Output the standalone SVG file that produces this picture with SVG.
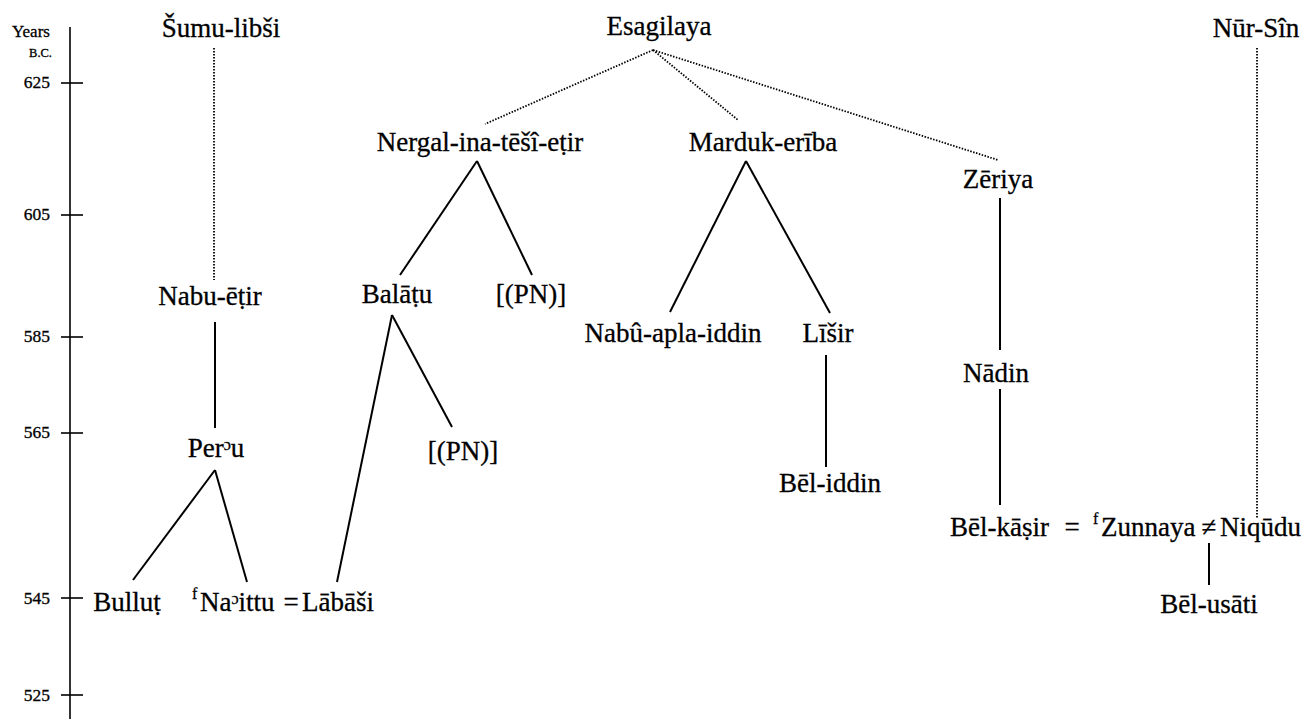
<svg xmlns="http://www.w3.org/2000/svg" width="1308" height="719" viewBox="0 0 1308 719" font-family="'Liberation Serif', 'Times New Roman', Times, 'DejaVu Serif', serif">
<style>
text{fill:#000;stroke:#000;stroke-width:0.3}
.n{font-size:27px;text-anchor:middle}
.s{font-size:27px;text-anchor:start}
.sup{font-size:16px;text-anchor:start}
.ax{font-size:17.5px;text-anchor:end}
.solid{stroke:#000;stroke-width:2;fill:none}
.dot{stroke:#000;stroke-width:1.8;stroke-dasharray:1.5 1.5;fill:none}
.axis{stroke:#000;stroke-width:1.6;fill:none}
</style>
<rect width="1308" height="719" fill="#fff"/>
<g id="axis">
<line class="axis" x1="70" y1="27" x2="70" y2="719"/>
<line class="axis" x1="61" y1="83" x2="83" y2="83"/>
<line class="axis" x1="61" y1="215" x2="83" y2="215"/>
<line class="axis" x1="61" y1="337" x2="83" y2="337"/>
<line class="axis" x1="61" y1="433" x2="83" y2="433"/>
<line class="axis" x1="61" y1="598" x2="83" y2="598"/>
<line class="axis" x1="61" y1="695" x2="83" y2="695"/>
<text x="12" y="37" font-size="17">Years</text>
<text x="52" y="57" font-size="12.5" text-anchor="end">B.C.</text>
<text class="ax" x="50" y="88">625</text>
<text class="ax" x="50" y="220">605</text>
<text class="ax" x="50" y="342">585</text>
<text class="ax" x="50" y="438">565</text>
<text class="ax" x="50" y="604">545</text>
<text class="ax" x="50" y="701">525</text>
</g>
<g id="connectors">
<line class="dot" x1="214" y1="48" x2="214" y2="280"/>
<line class="dot" x1="1257" y1="48" x2="1257" y2="518"/>
<line class="dot" x1="653" y1="50" x2="485" y2="124"/>
<line class="dot" x1="653" y1="50" x2="738" y2="120"/>
<line class="dot" x1="653" y1="50" x2="998" y2="160"/>
<line class="solid" x1="477" y1="161" x2="400" y2="275"/>
<line class="solid" x1="477" y1="161" x2="532" y2="275"/>
<line class="solid" x1="746" y1="161" x2="670" y2="312"/>
<line class="solid" x1="746" y1="161" x2="830" y2="313"/>
<line class="solid" x1="1000" y1="198" x2="1000" y2="350"/>
<line class="solid" x1="1000" y1="389" x2="1000" y2="505"/>
<line class="solid" x1="215" y1="322" x2="215" y2="428"/>
<line class="solid" x1="392" y1="315" x2="337" y2="582"/>
<line class="solid" x1="392" y1="315" x2="452" y2="427"/>
<line class="solid" x1="215" y1="470" x2="133" y2="580"/>
<line class="solid" x1="215" y1="470" x2="247" y2="582"/>
<line class="solid" x1="826" y1="355" x2="826" y2="467"/>
<line class="solid" x1="1209" y1="543" x2="1209" y2="585"/>
</g>
<g id="sumu-libsi"><text class="n" x="221" y="37">Šumu-libši</text></g>
<g id="esagilaya"><text class="n" x="659" y="35">Esagilaya</text></g>
<g id="nur-sin"><text class="n" x="1256" y="37">Nūr-Sîn</text></g>
<g id="nergal"><text class="n" x="480" y="151">Nergal-ina-tēšî-eṭir</text></g>
<g id="marduk-eriba"><text class="n" x="763" y="151">Marduk-erība</text></g>
<g id="zeriya"><text class="n" x="998" y="188">Zēriya</text></g>
<g id="nabu-etir"><text class="n" x="210" y="305">Nabu-ēṭir</text></g>
<g id="balatu"><text class="n" x="397" y="303">Balāṭu</text></g>
<g id="pn1"><text class="n" x="531" y="303">[(PN)]</text></g>
<g id="nabu-apla-iddin"><text class="n" x="673" y="342">Nabû-apla-iddin</text></g>
<g id="lisir"><text class="n" x="828" y="342">Līšir</text></g>
<g id="nadin"><text class="n" x="996" y="382">Nādin</text></g>
<g id="peru"><text class="n" x="216" y="457">Perᵓu</text></g>
<g id="pn2"><text class="n" x="463" y="460">[(PN)]</text></g>
<g id="bel-iddin"><text class="n" x="830" y="492">Bēl-iddin</text></g>
<g id="bel-kasir-row">
<text class="s" x="950" y="536">Bēl-kāṣir</text>
<text class="n" x="1072" y="536">=</text>
<text class="sup" x="1093" y="524">f</text>
<text class="s" x="1101" y="536">Zunnaya</text>
<text class="n" x="1209" y="536">≠</text>
<text class="s" x="1220" y="536">Niqūdu</text>
</g>
<g id="bel-usati"><text class="n" x="1209" y="613">Bēl-usāti</text></g>
<g id="bullut"><text class="n" x="127" y="611">Bulluṭ</text></g>
<g id="naittu-labasi">
<text class="sup" x="192" y="599">f</text>
<text class="s" x="200" y="611">Naᵓittu</text>
<text class="n" x="291" y="611">=</text>
<text class="s" x="302" y="611">Lābāši</text>
</g>
</svg>
